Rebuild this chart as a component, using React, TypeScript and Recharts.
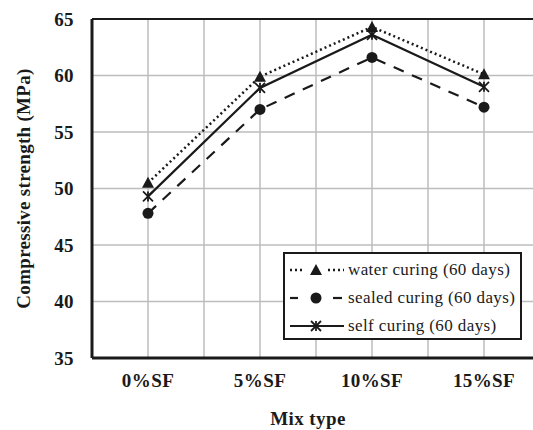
import React from 'react';
import { LineChart, Line, XAxis, YAxis, CartesianGrid, Legend, ReferenceLine, Label } from 'recharts';

const categories = ['0%SF', '5%SF', '10%SF', '15%SF'];
const waterCuring = [50.5, 59.9, 64.3, 60.1];
const sealedCuring = [47.8, 57.0, 61.6, 57.2];
const selfCuring = [49.3, 58.9, 63.6, 59.0];
const yTicks = [35, 40, 45, 50, 55, 60, 65];

const seriesNames = {
  water: 'water curing (60 days)',
  sealed: 'sealed curing (60 days)',
  self: 'self curing (60 days)',
};

// categories sit on odd slots so grid lines fall halfway between them
const data = categories.map((name, i) => ({
  slot: i * 2 + 1,
  name,
  water: waterCuring[i],
  sealed: sealedCuring[i],
  self: selfCuring[i],
}));
const xTicks = Array.from({ length: categories.length * 2 + 1 }, (_, i) => i);

const INK = '#1a1a1a';
const serif = 'Liberation Serif, Times New Roman, Times, serif';

const Triangle = ({ cx, cy }: any) =>
  cx == null ? null : <path d={`M${cx},${cy - 6} L${cx + 6},${cy + 5} L${cx - 6},${cy + 5} Z`} fill={INK} />;

const Dot = ({ cx, cy }: any) => (cx == null ? null : <circle cx={cx} cy={cy} r={5.5} fill={INK} />);

const Star = ({ cx, cy }: any) =>
  cx == null ? null : (
    <g stroke={INK} strokeWidth={1.8}>
      <line x1={cx - 5} y1={cy - 5} x2={cx + 5} y2={cy + 5} />
      <line x1={cx - 5} y1={cy + 5} x2={cx + 5} y2={cy - 5} />
      <line x1={cx} y1={cy - 5} x2={cx} y2={cy + 5} />
    </g>
  );

// legend sample: two line pieces either side of the marker
const legendRows = [
  { key: 'water', dash: '2 3', width: 2.5, pieces: [[0, 14], [38, 54]], Marker: Triangle },
  { key: 'sealed', dash: undefined, width: 2.2, pieces: [[0, 8], [43, 52]], Marker: Dot },
  { key: 'self', dash: undefined, width: 2.2, pieces: [[0, 54]], Marker: Star },
];

const LegendBox = () => (
  <div
    style={{
      border: `2px solid ${INK}`,
      background: '#fff',
      padding: '2px 0 2px 5px',
      fontFamily: serif,
      fontSize: 17,
      letterSpacing: 0.4,
      color: INK,
      boxSizing: 'border-box',
      width: 239,
      height: 88,
      whiteSpace: 'nowrap',
    }}
  >
    {legendRows.map(({ key, dash, width, pieces, Marker }) => (
      <div key={key} style={{ display: 'flex', alignItems: 'center', height: 28 }}>
        <svg width={54} height={16} style={{ marginRight: 4, flex: 'none' }}>
          {pieces.map(([a, b]) => (
            <line key={a} x1={a} y1={8} x2={b} y2={8} stroke={INK} strokeWidth={width} strokeDasharray={dash} />
          ))}
          <Marker cx={26} cy={8} />
        </svg>
        <span>{seriesNames[key as keyof typeof seriesNames]}</span>
      </div>
    ))}
  </div>
);

const tickStyle = { fontFamily: serif, fontWeight: 700, fontSize: 19, fill: INK, letterSpacing: 0.4 };

export default function App() {
  return (
    <div style={{ position: 'absolute', left: 0, top: 0, width: 533, height: 430, overflow: 'hidden', background: '#fff' }}>
      <LineChart width={545} height={430} data={data} margin={{ top: 19, right: 5, bottom: 0, left: 0 }}>
        <CartesianGrid stroke="#bdbdbd" strokeWidth={1.5} />
        <XAxis
          type="number"
          dataKey="slot"
          domain={[0, xTicks[xTicks.length - 1]]}
          ticks={xTicks}
          interval={0}
          tickFormatter={(v: number) => (v % 2 === 1 ? categories[(v - 1) / 2] : '')}
          tick={tickStyle}
          tickLine={false}
          tickSize={0}
          tickMargin={16}
          axisLine={{ stroke: INK, strokeWidth: 3 }}
          height={72}
        >
          <Label
            value="Mix type"
            position="insideBottom"
            offset={5}
            dx={-8}
            style={{ fontFamily: serif, fontWeight: 700, fontSize: 19, fill: INK, letterSpacing: 0.4 }}
          />
        </XAxis>
        <YAxis
          domain={[35, 65]}
          ticks={yTicks}
          interval={0}
          tick={tickStyle}
          tickLine={false}
          tickSize={0}
          tickMargin={18}
          axisLine={{ stroke: INK, strokeWidth: 3 }}
          width={92}
        >
          <Label
            value="Compressive strength (MPa)"
            angle={-90}
            position="insideLeft"
            offset={23}
            style={{ fontFamily: serif, fontWeight: 700, fontSize: 19, fill: INK, textAnchor: 'middle', letterSpacing: 0.3 }}
          />
        </YAxis>
        <ReferenceLine y={65} stroke={INK} strokeWidth={2} />
        <Legend
          layout="vertical"
          align="center"
          verticalAlign="middle"
          content={() => <LegendBox />}
          wrapperStyle={{ top: 252, left: 283, width: 239, height: 88 }}
        />
        <Line
          type="linear"
          dataKey="water"
          name={seriesNames.water}
          stroke={INK}
          strokeWidth={2.5}
          strokeDasharray="2 3"
          dot={<Triangle />}
          isAnimationActive={false}
        />
        <Line
          type="linear"
          dataKey="sealed"
          name={seriesNames.sealed}
          stroke={INK}
          strokeWidth={2.2}
          strokeDasharray="11 9"
          dot={<Dot />}
          isAnimationActive={false}
        />
        <Line
          type="linear"
          dataKey="self"
          name={seriesNames.self}
          stroke={INK}
          strokeWidth={2.2}
          dot={<Star />}
          isAnimationActive={false}
        />
      </LineChart>
    </div>
  );
}
